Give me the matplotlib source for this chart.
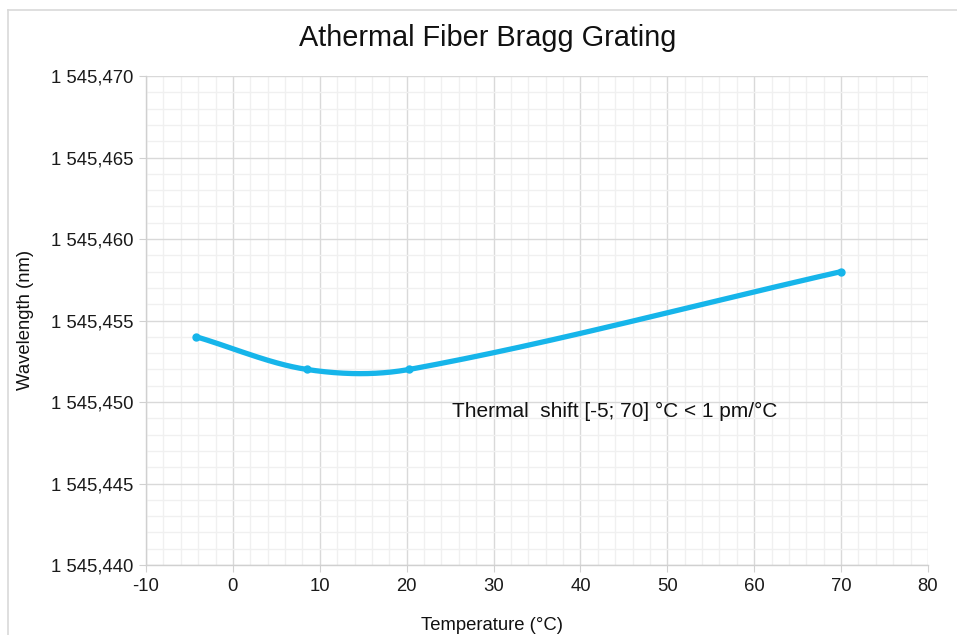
import numpy as np
import matplotlib
matplotlib.use("Agg")
import matplotlib.pyplot as plt
from matplotlib.ticker import MultipleLocator, FuncFormatter
from matplotlib.lines import Line2D

plt.rcParams['font.family'] = ['Liberation Sans', 'DejaVu Sans']
plt.rcParams['axes.unicode_minus'] = False

title = "Athermal Fiber Bragg Grating"
x_label = "Temperature (°C)"
y_label = "Wavelength (nm)"
note = "Thermal  shift [-5; 70] °C < 1 pm/°C"

temperature = [-4.2, 8.5, 20.3, 70.0]
wavelength = [1545.454, 1545.452, 1545.452, 1545.458]

line_color = "#16B5EA"

fig = plt.figure(figsize=(9.57, 6.35), dpi=100)
ax = fig.add_axes([0.1526, 0.1102, 0.8171, 0.7701])
ax.set_xlim(-10, 80)
ax.set_ylim(1545.440, 1545.470)


def smooth_display(xs, ys, n=80):
    # Excel-like smoothing: Bezier segments with chord-length scaled tangents,
    # computed in display space then mapped back to data space.
    P = ax.transData.transform(np.column_stack([xs, ys]))
    Pp = np.vstack([P[0], P, P[-1]])
    out = []
    for i in range(len(P) - 1):
        p0, p1, p2, p3 = Pp[i], Pp[i + 1], Pp[i + 2], Pp[i + 3]
        d01 = np.linalg.norm(p1 - p0); d12 = np.linalg.norm(p2 - p1); d23 = np.linalg.norm(p3 - p2)
        f1 = d12 / (d01 + d12) if d01 + d12 > 0 else 0.5
        f2 = d12 / (d12 + d23) if d12 + d23 > 0 else 0.5
        c1 = p1 + (p2 - p0) * f1 / 3.0
        c2 = p2 - (p3 - p1) * f2 / 3.0
        t = np.linspace(0, 1, n)[:, None]
        seg = ((1 - t) ** 3) * p1 + 3 * ((1 - t) ** 2) * t * c1 + 3 * (1 - t) * t ** 2 * c2 + t ** 3 * p2
        out.append(seg if i == 0 else seg[1:])
    s = ax.transData.inverted().transform(np.vstack(out))
    return s[:, 0], s[:, 1]


sx, sy = smooth_display(temperature, wavelength)
ax.plot(sx, sy, color=line_color, lw=3.8, solid_capstyle='round', zorder=3)
ax.plot(temperature, wavelength, 'o', color=line_color, ms=5.0, zorder=4)

ax.xaxis.set_major_locator(MultipleLocator(10))
ax.xaxis.set_minor_locator(MultipleLocator(2))
ax.yaxis.set_major_locator(MultipleLocator(0.005))
ax.yaxis.set_minor_locator(MultipleLocator(0.001))


def yfmt(v, pos):
    s = f"{v:.3f}"
    ip, dp = s.split('.')
    ip = f"{int(ip):,}".replace(',', ' ')
    return f"{ip},{dp}"


ax.yaxis.set_major_formatter(FuncFormatter(yfmt))

ax.grid(which='major', color='#d9d9d9', lw=1.0, zorder=0)
ax.grid(which='minor', color='#f0f0f0', lw=1.0, zorder=0)
ax.set_axisbelow(True)
for sp in ['top', 'right']:
    ax.spines[sp].set_visible(False)
for sp in ['left', 'bottom']:
    ax.spines[sp].set_color('#d0d0d0')
    ax.spines[sp].set_linewidth(1.0)
ax.tick_params(which='major', direction='out', length=5, color='#d0d0d0',
               labelsize=13.3, labelcolor='#1a1a1a', pad=4)
ax.tick_params(which='minor', length=0)

fig.text(488 / 957, 1 - 38 / 635, title, fontsize=20.8, color='#111111', ha='center', va='center')
fig.text(492 / 957, 1 - 625 / 635, x_label, fontsize=13.3, color='#111111', ha='center', va='center')
fig.text(25 / 957, 1 - 320 / 635, y_label, fontsize=13.3, color='#111111', ha='center', va='center', rotation=90)
ax.text(25.2, 1545.4494, note, fontsize=15, color='#111111', ha='left', va='center')

# outer chart frame (top and left edges visible)
fig.add_artist(Line2D([8 / 957, 1.0], [1 - 10 / 635, 1 - 10 / 635], transform=fig.transFigure, color='#d9d9d9', lw=1.2))
fig.add_artist(Line2D([8 / 957, 8 / 957], [0, 1 - 10 / 635], transform=fig.transFigure, color='#d9d9d9', lw=1.2))

fig.savefig("out.png", dpi=100, facecolor='white')
